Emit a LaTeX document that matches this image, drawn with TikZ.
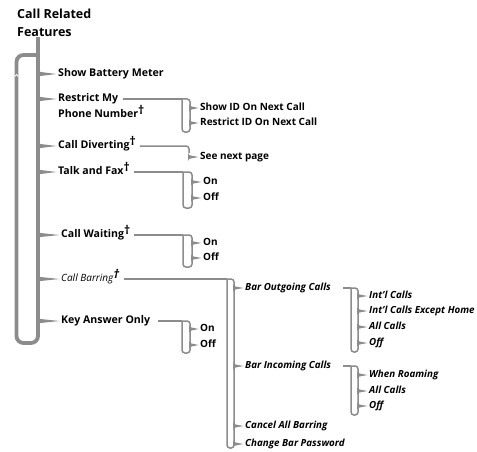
\documentclass[tikz,border=0pt]{standalone}
\usepackage{fontspec}
\setmainfont{Open Sans}
\usetikzlibrary{positioning,calc}
\colorlet{rail}{black!45}
\newcommand\dg{\raisebox{3pt}{\fontsize{12}{12}\selectfont\bfseries †}}
\newcommand\fork[4]{%
  \fill[rail] let \p1=(#2.west) in
    (#1-1,\y1+#3) to[out=-90,in=180] (#1+2.5,\y1+#4) -- (\x1-1.5,\y1)
    -- (#1+2.5,\y1-#4) to[out=180,in=90] (#1-1,\y1-#3) -- cycle;}

\begin{document}
\begin{tikzpicture}[
  x=1pt, y=1pt,
  head/.style={font=\fontsize{12.5}{17.5}\selectfont\bfseries, align=left, inner sep=0pt, anchor=north west},
  item/.style={font=\fontsize{10.6}{15}\selectfont\bfseries, inner sep=0pt, anchor=west,
               text height=8pt, text depth=2.5pt},
  sub/.style={item, font=\fontsize{10}{14}\selectfont\bfseries},
  bitem/.style={item, font=\fontsize{9.8}{14}\selectfont\bfseries\itshape},
  loop/.style={draw=rail, line width=3.8pt, rounded corners=7pt},
  link/.style={draw=rail, line width=1.5pt},
  box/.style={link, rounded corners=3pt},
]
\useasboundingbox (0,0) rectangle (477,-452);

\node[head] (title) at (17,-9) {Call Related\\Features};

\node[item] (bat)  at (58,-74)  {Show Battery Meter};
\node[item] (rmy)  at (58,-99)  {Restrict My};
\node[item] (pnum) at (58,-115) {Phone Number\dg};
\node[item] (div)  at (58,-146) {Call Diverting\dg};
\node[item] (fax)  at (58,-172) {Talk and Fax\dg};
\node[item] (wait) at (61,-235) {Call Waiting\dg};
\node[item, font=\fontsize{10}{14}\selectfont\itshape] (barr) at (61,-279) {Call Barring\dg};
\node[item] (key)  at (61,-321) {Key Answer Only};

\node[sub] (sid) at (200,-108) {Show ID On Next Call};
\node[sub] (rid) at (200,-123) {Restrict ID On Next Call};
\node[sub] (snp) at (200,-157) {See next page};
\node[sub] (fon)  at (203,-182) {On};
\node[sub] (foff) at (203,-198) {Off};
\node[sub] (won)  at (203,-243) {On};
\node[sub] (woff) at (203,-258) {Off};
\node[sub] (kon)  at (200,-329) {On};
\node[sub] (koff) at (200,-345) {Off};

\node[bitem] (bout) at (245,-288) {Bar Outgoing Calls};
\node[bitem] (bin)  at (245,-366) {Bar Incoming Calls};
\node[bitem] (bcan) at (245,-426) {Cancel All Barring};
\node[bitem] (bpw)  at (245,-444) {Change Bar Password};

\node[bitem] (oint) at (369,-296) {Int’l Calls};
\node[bitem] (oexh) at (369,-311) {Int’l Calls Except Home};
\node[bitem] (oall) at (369,-327) {All Calls};
\node[bitem] (ooff) at (369,-343) {Off};
\node[bitem] (iroa) at (369,-375) {When Roaming};
\node[bitem] (iall) at (369,-391) {All Calls};
\node[bitem] (ioff) at (369,-406) {Off};

\coordinate (spine) at (38,-55);
\coordinate (lbot) at (16.5,-343);
\draw[loop] (spine |- title.south) -- (spine);
\draw[loop] (spine) -| (lbot) -| (spine);
\draw[white, line width=0.8pt] (14.8,-76.5) -- (16.5,-74.5) -- (18.2,-76.5);
\foreach \k in {bat,rmy,div,fax,wait,barr,key} {\fork{38}{\k}{7}{2}}

\coordinate (rtop) at (182,-99);  \coordinate (rbot) at (190,-132);
\draw[link] ([xshift=5pt]rmy.east) -- (rtop);
\draw[box] (rtop) -| (rbot) -| (rtop);
\foreach \k in {sid,rid} {\fork{190}{\k}{4}{1.3}}

\draw[link, rounded corners=3pt] ([xshift=4pt]div.east) -| (189,-153);
\fork{189}{snp}{4}{1.3}

\coordinate (ftop) at (183,-172); \coordinate (fbot) at (192,-208);
\draw[link] ([xshift=4pt]fax.east) -- (ftop);
\draw[box] (ftop) -| (fbot) -| (ftop);
\foreach \k in {fon,foff} {\fork{192}{\k}{4}{1.3}}

\coordinate (wtop) at (183,-235); \coordinate (wbot) at (192,-267);
\draw[link] ([xshift=4pt]wait.east) -- (wtop);
\draw[box] (wtop) -| (wbot) -| (wtop);
\foreach \k in {won,woff} {\fork{192}{\k}{4}{1.3}}

\coordinate (btop) at (227,-279); \coordinate (bbot) at (234,-448);
\draw[link] ([xshift=4pt]barr.east) -- (btop);
\draw[box] (btop) -| (bbot) -| (btop);
\foreach \k in {bout,bin,bcan,bpw} {\fork{234}{\k}{4}{1.3}}

\coordinate (ktop) at (182,-321); \coordinate (kbot) at (190,-353);
\draw[link] ([xshift=8pt]key.east) -- (ktop);
\draw[box] (ktop) -| (kbot) -| (ktop);
\foreach \k in {kon,koff} {\fork{190}{\k}{4}{1.3}}

\coordinate (otop) at (351,-288); \coordinate (obot) at (358,-352);
\draw[link] ([xshift=12pt]bout.east) -- (otop);
\draw[box] (otop) -| (obot) -| (otop);
\foreach \k in {oint,oexh,oall,ooff} {\fork{358}{\k}{4}{1.3}}

\coordinate (itop) at (351,-366); \coordinate (ibot) at (358,-415);
\draw[link] ([xshift=12pt]bin.east) -- (itop);
\draw[box] (itop) -| (ibot) -| (itop);
\foreach \k in {iroa,iall,ioff} {\fork{358}{\k}{4}{1.3}}

\end{tikzpicture}
\end{document}
